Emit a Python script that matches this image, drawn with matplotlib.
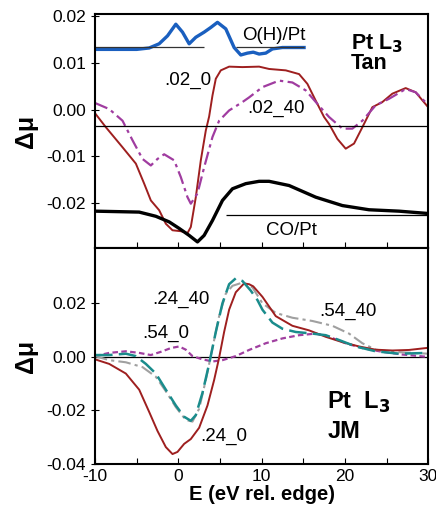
import matplotlib
matplotlib.use("Agg")
import matplotlib.pyplot as plt

plt.rcParams['font.family'] = ['Liberation Sans', 'DejaVu Sans']

# ---- top panel (Pt L3, Tan) ----
e_oh = [-10, -5, -3.5, -2.3, -1.3, -0.3, 0.5, 1.3, 2.1, 3.1, 3.9, 4.7, 5.7, 6.7, 7.5,
        8.3, 9.0, 9.7, 10.5, 11.3, 12.5, 15.1]
oh_pt = [0.0129, 0.0129, 0.0132, 0.0141, 0.0158, 0.0183, 0.0166, 0.0141, 0.0155, 0.0166,
         0.0176, 0.0187, 0.0173, 0.0133, 0.0117, 0.0121, 0.0123, 0.0119, 0.0121, 0.0130,
         0.0133, 0.0133]

e_co = [-10, -4.7, -2.7, -1.1, 0.1, 1.3, 2.3, 3.1, 4.1, 5.3, 6.5, 8.1, 9.7, 10.9, 13.3,
        16.5, 19.7, 22.9, 26.5, 30]
co_pt = [-0.0218, -0.0220, -0.0229, -0.0241, -0.0255, -0.0270, -0.0284, -0.0270, -0.0238,
         -0.0195, -0.0170, -0.0159, -0.0154, -0.0154, -0.0163, -0.0188, -0.0206, -0.0215,
         -0.0218, -0.0223]

e_020 = [-10, -8.7, -6.7, -5.1, -4.1, -3.3, -2.3, -1.5, -0.7, 0.3, 1.1, 1.5, 2.1, 2.7,
         3.3, 3.7, 4.1, 4.5, 5.1, 6.1, 7.7, 9.7, 10.9, 12.9, 14.5, 15.5, 16.5, 17.5, 18.1,
         19.1, 20.1, 21.1, 22.1, 23.3, 24.5, 25.7, 27.3, 28.5, 30]
s_020 = [-0.0008, -0.0038, -0.0081, -0.0116, -0.0159, -0.0195, -0.0216, -0.0245, -0.0259,
         -0.0261, -0.0265, -0.0252, -0.0188, -0.0109, -0.0045, -0.0015, 0.0030, 0.0066,
         0.0084, 0.0092, 0.0091, 0.0092, 0.0087, 0.0084, 0.0076, 0.0055, 0.0019, -0.0016,
         -0.0031, -0.0063, -0.0084, -0.0073, -0.0038, 0.0005, 0.0016, 0.0034, 0.0046,
         0.0037, 0.0005]

e_0240 = [-10, -8.3, -6.7, -5.5, -4.3, -3.3, -2.5, -1.7, -0.5, 0.3, 1.1, 1.5, 2.3, 3.1,
          4.1, 4.9, 6.1, 7.7, 8.5, 10.1, 12.1, 13.7, 15.3, 16.9, 18.1, 19.7, 20.9, 22.1,
          23.7, 25.3, 27.3, 28.5, 30]
s_0240 = [0.0014, 0.0001, -0.0024, -0.0066, -0.0106, -0.0120, -0.0106, -0.0096, -0.0109,
          -0.0145, -0.0188, -0.0202, -0.0180, -0.0124, -0.0059, -0.0024, -0.0002, 0.0016,
          0.0026, 0.0048, 0.0062, 0.0058, 0.0041, 0.0008, -0.0016, -0.0041, -0.0041,
          -0.0024, 0.0009, 0.0023, 0.0044, 0.0037, 0.0010]

# ---- bottom panel (Pt L3, JM) ----
e_240 = [-10, -8.3, -6.3, -4.7, -3.5, -2.5, -1.5, -0.7, -0.1, 0.7, 1.5, 2.5, 3.5, 4.3,
         4.9, 5.5, 6.1, 6.9, 7.9, 8.5, 9.0, 10.1, 11.7, 13.7, 15.7, 17.7, 19.7, 21.7,
         23.7, 25.7, 27.7, 30]
s_240 = [-0.0010, -0.0027, -0.0063, -0.0123, -0.0206, -0.0277, -0.0337, -0.0363, -0.0355,
         -0.0325, -0.0307, -0.0265, -0.0182, -0.0087, -0.0004, 0.0092, 0.0175, 0.0240,
         0.0273, 0.0270, 0.0262, 0.0223, 0.0151, 0.0115, 0.0098, 0.0074, 0.0054, 0.0038,
         0.0026, 0.0023, 0.0025, 0.0033]

e_2440 = [-10, -8.3, -6.3, -5.1, -3.9, -2.7, -1.5, -0.3, 0.7, 1.5, 2.1, 2.9, 3.7, 4.5,
          5.3, 6.1, 6.9, 7.7, 8.7, 9.5, 10.1, 11.3, 12.5, 14.1, 16.1, 17.7, 19.3, 21.3,
          23.7, 26.5, 30]
s_2440 = [0.0006, 0.0006, 0.0011, 0.0002, -0.0027, -0.0063, -0.0123, -0.0182, -0.0224,
          -0.0239, -0.0218, -0.0135, -0.0027, 0.0092, 0.0199, 0.0270, 0.0292, 0.0282,
          0.0246, 0.0211, 0.0175, 0.0127, 0.0104, 0.0092, 0.0086, 0.0080, 0.0062, 0.0038,
          0.0020, 0.0011, 0.0014]

e_5440 = [-10, -8.3, -6.3, -4.3, -2.7, -1.5, -0.3, 0.9, 1.7, 2.5, 3.3, 4.1, 4.9, 5.7, 6.5,
          7.7, 8.9, 10.1, 11.7, 13.7, 16.1, 18.5, 20.5, 22.1, 23.7, 25.7, 30]
s_5440 = [0.0002, -0.0013, -0.0021, -0.0039, -0.0075, -0.0129, -0.0188, -0.0236, -0.0242,
          -0.0194, -0.0087, 0.0032, 0.0151, 0.0235, 0.0264, 0.0276, 0.0258, 0.0199,
          0.0163, 0.0145, 0.0133, 0.0115, 0.0086, 0.0050, 0.0026, 0.0018, 0.0011]

e_540 = [-10, -8.3, -6.3, -4.7, -3.3, -2.1, -0.9, 0.1, 0.9, 1.7, 2.9, 4.1, 5.3, 6.9, 8.5,
         10.5, 12.5, 14.5, 16.5, 18.1, 20.1, 22.1, 24.5, 26.9, 30]
s_540 = [0.0002, 0.0014, 0.0020, 0.0014, 0.0006, 0.0018, 0.0032, 0.0038, 0.0026, 0.0002,
         -0.0010, -0.0018, -0.0013, 0.0002, 0.0025, 0.0050, 0.0068, 0.0080, 0.0086,
         0.0074, 0.0050, 0.0032, 0.0018, 0.0008, -0.0001]

fig = plt.figure(figsize=(4.36, 5.11), dpi=100)
ax1 = fig.add_axes([0.218, 0.5147, 0.764, 0.458])
ax2 = fig.add_axes([0.218, 0.092, 0.764, 0.4227])

# top panel
ax1.plot(e_020, s_020, color='#9e1f1f', lw=1.4)
ax1.plot(e_0240, s_0240, color='#a03ca0', lw=1.6, ls=(0, (6, 2, 1.5, 2)))
ax1.plot(e_co, co_pt, color='black', lw=2.4, solid_joinstyle='round')
ax1.plot(e_oh, oh_pt, color='#1a5fbf', lw=2.4, solid_joinstyle='round')
ax1.axhline(-0.0036, color='black', lw=0.9)
ax1.hlines(0.01336, -10, 3.1, color='#333333', lw=0.9)
ax1.hlines(0.01336, 6.9, 15.1, color='#333333', lw=0.9)
ax1.hlines(-0.0226, 5.7, 30, color='black', lw=0.9)

ax1.text(-1.7, 0.0062, '.02_0', fontsize=13.5, va='center')
ax1.text(8.3, 0.0002, '.02_40', fontsize=13.5, va='center')
ax1.text(7.7, 0.0159, 'O(H)/Pt', fontsize=13.5, va='center')
ax1.text(10.5, -0.0259, 'CO/Pt', fontsize=13.5, va='center')
ax1.text(20.7, 0.0141, 'Pt L$_\\mathbf{3}$', fontsize=15.5, fontweight='bold', va='center')
ax1.text(20.7, 0.0098, 'Tan', fontsize=15.5, fontweight='bold', va='center')

ax1.set_xlim(-10, 30)
ax1.set_ylim(-0.0297, 0.0205)
ax1.set_xticks([-5, 0, 5, 10, 15, 20, 25])
ax1.set_xticklabels([])
ax1.tick_params(axis='x', direction='in', length=4)
ax1.set_yticks([0.02, 0.01, 0.0, -0.01, -0.02])
ax1.set_yticklabels(['0.02', '0.01', '0.00', '-0.01', '-0.02'])
ax1.tick_params(axis='y', direction='inout', length=6, labelsize=12.5)
ax1.set_ylabel('Δμ', fontsize=18, fontweight='bold', labelpad=6)

# bottom panel
ax2.axhline(0.0, color='black', lw=0.9)
ax2.plot(e_540, s_540, color='#a040a0', lw=1.6, ls=(0, (2.5, 1.5)))
ax2.plot(e_5440, s_5440, color='#a0a0a0', lw=1.5, ls=(0, (6, 2, 1.5, 2)))
ax2.plot(e_240, s_240, color='#9e1f1f', lw=1.4)
ax2.plot(e_2440, s_2440, color='#1a8c8c', lw=1.8, ls=(0, (7, 2.5)))

ax2.text(-3.1, 0.0212, '.24_40', fontsize=13.5, va='center')
ax2.text(-4.3, 0.0086, '.54_0', fontsize=13.5, va='center')
ax2.text(16.9, 0.0170, '.54_40', fontsize=13.5, va='center')
ax2.text(2.6, -0.0297, '.24_0', fontsize=13.5, va='center')
ax2.text(17.9, -0.0171, 'Pt  L$_\\mathbf{3}$', fontsize=17, fontweight='bold', va='center')
ax2.text(17.9, -0.0279, 'JM', fontsize=17, fontweight='bold', va='center')

ax2.set_xlim(-10, 30)
ax2.set_ylim(-0.0395, 0.0405)
ax2.set_xticks([-10, -5, 0, 5, 10, 15, 20, 25, 30])
ax2.set_xticklabels(['-10', '', '0', '', '10', '', '20', '', '30'])
ax2.tick_params(axis='x', direction='in', length=4, labelsize=12.5)
ax2.set_yticks([0.02, 0.0, -0.02, -0.04])
ax2.set_yticklabels(['0.02', '0.00', '-0.02', '-0.04'])
ax2.tick_params(axis='y', direction='inout', length=6, labelsize=12.5)
ax2.set_xlabel('E (eV rel. edge)', fontsize=14.5, fontweight='bold', labelpad=1)
ax2.set_ylabel('Δμ', fontsize=18, fontweight='bold', labelpad=6)

for ax in (ax1, ax2):
    for sp in ax.spines.values():
        sp.set_linewidth(1.5)

fig.savefig('out.png', dpi=100)
